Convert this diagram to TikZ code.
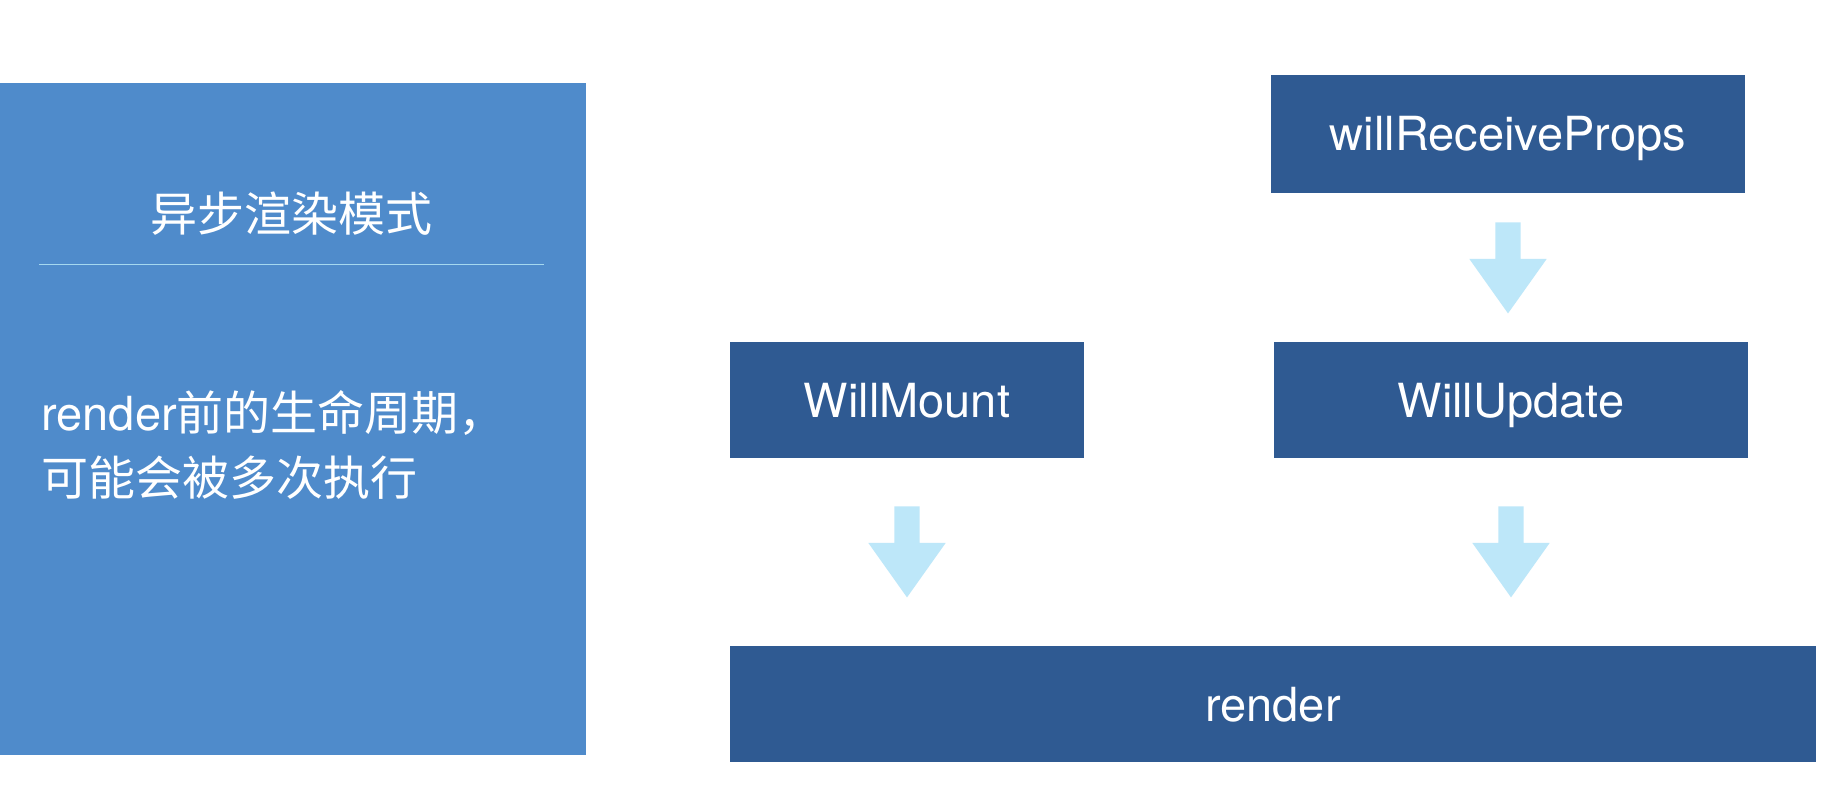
\documentclass[tikz,border=0pt]{standalone}
\usepackage{fontspec}
\usetikzlibrary{calc}
\setmainfont{TeX Gyre Heros}
\newfontfamily\cjk{Noto Sans CJK SC}
\definecolor{panelblue}{HTML}{4F8BCB}
\definecolor{boxblue}{HTML}{2F5A92}
\definecolor{arrowblue}{HTML}{BDE7F9}
\definecolor{rulecol}{HTML}{A5D8EF}
\begin{document}
\begin{tikzpicture}[x=0.5pt,y=-0.5pt,
  boxnode/.style={fill=boxblue, draw=none, text=white, inner sep=0pt,
    font=\fontsize{23.5}{28}\selectfont, text height=17pt, text depth=0pt},
  paneltext/.style={text=white, inner sep=0pt, font=\cjk\fontsize{23.5}{28}\selectfont},
  pics/blockarrow/.style={code={
    \fill[arrowblue] (-12.7,0) -- (12.7,0) -- (12.7,36.5) -- (38.7,36.5)
      -- (0,91) -- (-38.7,36.5) -- (-12.7,36.5) -- cycle;}}
]
\useasboundingbox[fill=white] (0,0) rectangle (1834,802);

% left panel
\fill[panelblue] (0,83) rectangle (586,755);
\node[paneltext, anchor=base] (title) at (291,231) {异步渲染模式};
\draw[rulecol, line width=0.8pt] (39,264.5) coordinate (ruleL) -- (544,264.5) coordinate (ruleR);
\node[paneltext, anchor=base west] (desc1) at (41,430) {{\fontspec{TeX Gyre Heros}render}前的生命周期，};
\node[paneltext, anchor=base west] (desc2) at (41,495) {可能会被多次执行};

% boxes
\node[boxnode, minimum width=237pt, minimum height=59pt] (wrp) at (1508,134) {willReceiveProps};
\node[boxnode, minimum width=177pt, minimum height=58pt] (mount) at (907,400) {WillMount};
\node[boxnode, minimum width=237pt, minimum height=58pt] (update) at (1511,400) {WillUpdate};
\node[boxnode, minimum width=543pt, minimum height=58pt] (render) at (1273,704) {render};

% block arrows, placed below the node they leave
\pic at ($(wrp.south)+(0,29)$) {blockarrow};
\pic at ($(mount.south)+(0,48)$) {blockarrow};
\pic at ($(update.south)+(0,48)$) {blockarrow};
\end{tikzpicture}
\end{document}
